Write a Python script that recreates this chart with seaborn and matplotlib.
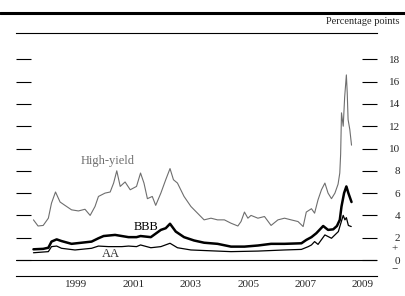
import numpy as np
import pandas as pd
import matplotlib
matplotlib.use("Agg")
import matplotlib.pyplot as plt
import seaborn as sns
from matplotlib.lines import Line2D
import matplotlib.transforms as mtransforms

# ---- data (decimal years, percentage points) ----
hy_t = [1998.0, 1998.16, 1998.34, 1998.52, 1998.63, 1998.77, 1998.93, 1999.1, 1999.33, 1999.57,
        1999.8, 1999.98, 2000.15, 2000.27, 2000.5, 2000.68, 2000.8, 2000.91, 2001.03, 2001.2,
        2001.38, 2001.6, 2001.74, 2001.86, 2001.98, 2002.15, 2002.27, 2002.45, 2002.62, 2002.77,
        2002.89, 2003.03, 2003.26, 2003.5, 2003.73, 2003.96, 2004.2, 2004.43, 2004.67, 2004.9,
        2005.14, 2005.25, 2005.37, 2005.49, 2005.6, 2005.84, 2006.07, 2006.3, 2006.54, 2006.77,
        2007.0, 2007.24, 2007.42, 2007.53, 2007.71, 2007.82, 2007.94, 2008.06, 2008.18, 2008.29,
        2008.41, 2008.53, 2008.64, 2008.7, 2008.73, 2008.76, 2008.82, 2008.87, 2008.93, 2008.96,
        2008.99, 2009.05, 2009.11]
hy_v = [3.6, 3.05, 3.1, 3.75, 5.1, 6.1, 5.2, 4.9, 4.5, 4.4,
        4.55, 4.0, 4.8, 5.7, 6.0, 6.1, 6.9, 8.0, 6.6, 7.0,
        6.3, 6.6, 7.8, 6.9, 5.5, 5.7, 4.9, 6.0, 7.2, 8.2,
        7.2, 6.9, 5.7, 4.8, 4.2, 3.6, 3.75, 3.6, 3.6, 3.3,
        3.05, 3.45, 4.3, 3.75, 4.0, 3.75, 3.9, 3.1, 3.6, 3.75,
        3.6, 3.45, 3.0, 4.3, 4.6, 4.2, 5.4, 6.3, 6.9, 6.0,
        5.5, 6.0, 6.8, 7.8, 9.5, 13.2, 12.0, 14.6, 16.6, 15.0,
        12.6, 11.7, 10.3]

bbb_t = [1998.0, 1998.34, 1998.52, 1998.63, 1998.81, 1998.98, 1999.33, 1999.68, 2000.03, 2000.27,
         2000.45, 2000.85, 2001.32, 2001.6, 2001.74, 2002.1, 2002.45, 2002.62, 2002.77, 2002.97,
         2003.26, 2003.61, 2003.96, 2004.43, 2004.9, 2005.37, 2005.84, 2006.3, 2006.77, 2007.36,
         2007.53, 2007.71, 2007.88, 2008.12, 2008.29, 2008.47, 2008.6, 2008.7, 2008.76, 2008.85,
         2008.93, 2009.0, 2009.11]
bbb_v = [0.96, 1.0, 1.1, 1.65, 1.85, 1.7, 1.45, 1.55, 1.65, 1.95,
         2.15, 2.25, 2.05, 2.05, 2.15, 2.05, 2.7, 2.85, 3.25, 2.55,
         2.05, 1.75, 1.55, 1.45, 1.2, 1.2, 1.3, 1.45, 1.45, 1.5,
         1.8, 2.05, 2.4, 3.05, 2.7, 2.75, 3.05, 3.6, 4.8, 6.0,
         6.6, 6.0, 5.2]

aa_t = [1998.0, 1998.52, 1998.63, 1998.81, 1998.98, 1999.45, 2000.03, 2000.27, 2000.62, 2001.09,
        2001.32, 2001.6, 2001.74, 2002.1, 2002.45, 2002.77, 2003.03, 2003.5, 2003.96, 2004.9,
        2005.84, 2006.77, 2007.36, 2007.6, 2007.71, 2007.82, 2007.94, 2008.18, 2008.41, 2008.65,
        2008.76, 2008.82, 2008.88, 2008.93, 2009.0, 2009.1]
aa_v = [0.65, 0.75, 1.2, 1.25, 1.05, 0.9, 1.05, 1.25, 1.2, 1.2,
        1.25, 1.2, 1.35, 1.1, 1.2, 1.5, 1.1, 0.9, 0.85, 0.75,
        0.8, 0.9, 0.95, 1.2, 1.35, 1.65, 1.4, 2.25, 1.95, 2.55,
        3.5, 4.0, 3.6, 3.8, 3.1, 3.0]

y_ticks = list(range(0, 20, 2))
year_labels = [1999, 2001, 2003, 2005, 2007, 2009]

sns.set_style("white")
plt.rcParams["font.family"] = ["Liberation Serif", "DejaVu Serif"]

W, H = 406, 296
fig = plt.figure(figsize=(W / 100, H / 100), dpi=100)
ax = fig.add_axes([16 / W, 1 - 276 / H, (377 - 16) / W, (276 - 33) / H])

hy = pd.DataFrame({"date": hy_t, "spread": hy_v})
bbb = pd.DataFrame({"date": bbb_t, "spread": bbb_v})
aa = pd.DataFrame({"date": aa_t, "spread": aa_v})

sns.lineplot(data=hy, x="date", y="spread", ax=ax, color="#6e6e6e", lw=0.8)
sns.lineplot(data=bbb, x="date", y="spread", ax=ax, color="black", lw=1.8)
sns.lineplot(data=aa, x="date", y="spread", ax=ax, color="black", lw=0.9)
ax.axhline(0, color="black", lw=0.8)

ax.set_xlim(1997.39, 2010.0)
ax.set_ylim(-1.435, 20.36)
ax.set_xlabel("")
ax.set_ylabel("")

for s in ["left", "right"]:
    ax.spines[s].set_visible(False)
for s in ["top", "bottom"]:
    ax.spines[s].set_visible(True)
    ax.spines[s].set_linewidth(0.8)
    ax.spines[s].set_color("black")

# x axis: ticks at year starts, labels at mid-year
ax.set_xticks([1997.39] + list(range(1998, 2011)))
ax.set_xticklabels([])
ax.set_xticks([y + 0.5 for y in year_labels], minor=True)
ax.set_xticklabels([str(y) for y in year_labels], minor=True)
ax.tick_params(axis="x", which="major", direction="in", length=5, width=0.8, color="black")
ax.tick_params(axis="x", which="minor", length=0, pad=3, labelsize=8)

# y axis: ticks both sides, labels right
ax.set_yticks(y_ticks)
ax.set_yticklabels([str(v) for v in y_ticks])
ax.tick_params(axis="y", direction="in", length=11, width=0.8, color="black",
               left=True, right=True, labelleft=False, labelright=True,
               pad=16.5, labelsize=8)
for t in ax.yaxis.get_major_ticks():
    t.label2.set_horizontalalignment("right")

trans = mtransforms.blended_transform_factory(ax.transAxes, ax.transData)
ax.text(1 + 21 / 361, 1.0, "+", transform=trans, ha="right", va="center", fontsize=8)
ax.text(1 + 21 / 361, -0.85, "\u2212", transform=trans, ha="right", va="center", fontsize=8)

ax.text(2000.6, 8.9, "High-yield", color="#6e6e6e", fontsize=9, ha="center", va="center")
ax.text(2001.95, 2.95, "BBB", color="black", fontsize=9, ha="center", va="center")
ax.text(2000.7, 0.55, "AA", color="#333333", fontsize=9, ha="center", va="center")

fig.add_artist(Line2D([0, 1], [1 - 13 / H, 1 - 13 / H], color="black", lw=2.2))
fig.text(400 / W, 1 - 22 / H, "Percentage points", ha="right", va="center", fontsize=7.5)

fig.savefig("out.png", dpi=100)
